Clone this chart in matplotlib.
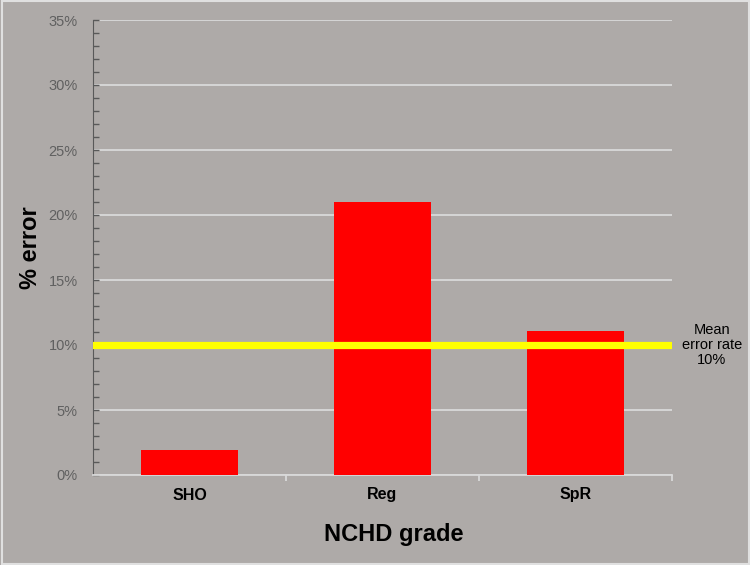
import numpy as np
import matplotlib.pyplot as plt
from matplotlib.ticker import MultipleLocator, FuncFormatter

plt.rcParams['font.family'] = ['Liberation Sans', 'DejaVu Sans']

# data
grades = ['SHO', 'Reg', 'SpR']
error_pct = [1.9, 21.0, 11.1]
mean_rate = 10

bg = '#aeaaa8'

fig = plt.figure(figsize=(7.5, 5.65), dpi=100, facecolor=bg)
ax = fig.add_axes([93/750, 90/565, 579/750, 455/565])
ax.set_facecolor(bg)

x = np.arange(len(grades))
ax.bar(x, error_pct, width=0.5, color='#ff0000', zorder=3)
ax.axhline(mean_rate, color='#ffff00', lw=5.2, zorder=4)

ax.set_xlim(-0.5, len(grades) - 0.5)
ax.set_ylim(0, 35)

ax.yaxis.set_major_locator(MultipleLocator(5))
ax.yaxis.set_minor_locator(MultipleLocator(1))
ax.yaxis.set_major_formatter(FuncFormatter(lambda v, p: f'{v:.0f}%'))
ax.grid(axis='y', which='major', color='#d9d9d9', lw=1.3, zorder=1)

ax.tick_params(axis='y', which='both', direction='in', length=4, width=1,
               color='#595959', labelcolor='#606060', labelsize=10.5, pad=11)
ax.set_xticks(x)
ax.set_xticklabels(grades, fontsize=11.5, fontweight='bold')
ax.tick_params(axis='x', which='major', length=0, pad=9)
ax.set_xticks(np.arange(len(grades)) + 0.5, minor=True)
ax.tick_params(axis='x', which='minor', length=4, direction='out', color='#d9d9d9', width=1.3)

for s in ['top', 'right']:
    ax.spines[s].set_visible(False)
ax.spines['left'].set_color('#595959')
ax.spines['bottom'].set_color('#d9d9d9')
ax.spines['bottom'].set_linewidth(1.3)

ax.set_ylabel('% error', fontsize=17, fontweight='bold', labelpad=5)
ax.set_xlabel('NCHD grade', fontsize=17, fontweight='bold', labelpad=15)
ax.xaxis.label.set_x(0.52)

ax.text(1.069, mean_rate, 'Mean\nerror rate\n10%', transform=ax.get_yaxis_transform(),
        ha='center', va='center', fontsize=10.5, linespacing=1.1)

fig.patches.append(plt.Rectangle((0.002, 0.002), 0.996, 0.996, transform=fig.transFigure,
                                 fill=False, edgecolor='#e0e0e0', lw=1.5))

plt.savefig('out.png', dpi=100, facecolor=bg)
